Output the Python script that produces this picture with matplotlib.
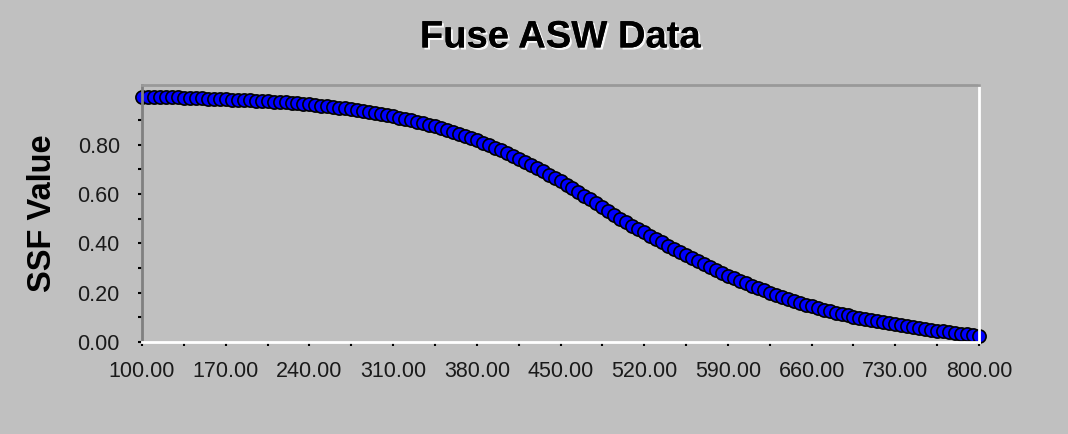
import matplotlib
matplotlib.use("Agg")
import matplotlib.pyplot as plt
import matplotlib.patheffects as pe
import numpy as np

# SSF curve, sampled every 5 units from 100 to 800
x_start = 100
x_step = 5
ssf_values = [
    0.995, 0.995, 0.994, 0.994, 0.993, 0.993, 0.992, 0.991, 0.990, 0.989,
    0.988, 0.987, 0.986, 0.985, 0.984, 0.983, 0.982, 0.981, 0.980, 0.978,
    0.977, 0.976, 0.974, 0.972, 0.971, 0.969, 0.967, 0.965, 0.963, 0.960,
    0.958, 0.955, 0.953, 0.950, 0.947, 0.943, 0.940, 0.936, 0.933, 0.928,
    0.924, 0.920, 0.915, 0.910, 0.905, 0.899, 0.893, 0.887, 0.881, 0.874,
    0.867, 0.860, 0.852, 0.844, 0.836, 0.827, 0.818, 0.808, 0.798, 0.788,
    0.777, 0.766, 0.755, 0.743, 0.731, 0.719, 0.706, 0.693, 0.679, 0.665,
    0.651, 0.637, 0.623, 0.608, 0.593, 0.578, 0.562, 0.547, 0.531, 0.516,
    0.500,
    0.486, 0.472, 0.458, 0.445, 0.431, 0.417, 0.404, 0.391, 0.378, 0.365,
    0.352, 0.339, 0.327, 0.315, 0.303, 0.291, 0.280, 0.269, 0.258, 0.248,
    0.238, 0.228, 0.218, 0.209, 0.200, 0.191, 0.182, 0.174, 0.166, 0.159,
    0.152, 0.145, 0.138, 0.131, 0.125, 0.119, 0.114, 0.108, 0.103, 0.098,
    0.093, 0.088, 0.084, 0.080, 0.076, 0.072, 0.068, 0.065, 0.062, 0.058,
    0.054, 0.050, 0.046, 0.043, 0.040, 0.037, 0.034, 0.031, 0.028, 0.025,
]
x_values = x_start + x_step * np.arange(len(ssf_values))

x_major = [100, 170, 240, 310, 380, 450, 520, 590, 660, 730, 800]
x_minor = [135, 205, 275, 345, 415, 485, 555, 625, 695, 765]
y_major = [0.0, 0.2, 0.4, 0.6, 0.8]
y_minor = [0.1, 0.3, 0.5, 0.7, 0.9]

bg = "#c0c0c0"

fig = plt.figure(figsize=(10.68, 4.34), dpi=100)
fig.patch.set_facecolor(bg)
ax = fig.add_axes([0.1330, 0.2120, 0.7837, 0.5922])
ax.set_facecolor(bg)

ax.plot(x_values, ssf_values, linestyle="none", marker="o", markersize=9.5,
        markerfacecolor="#0000ff", markeredgecolor="black", markeredgewidth=1.2,
        clip_on=False)

ax.set_xlim(100, 800)
ax.set_ylim(0, 1.042)

ax.set_xticks(x_major)
ax.set_xticks(x_minor, minor=True)
ax.set_xticklabels([f"{v:.2f}" for v in x_major])
ax.set_yticks(y_major)
ax.set_yticks(y_minor, minor=True)
ax.set_yticklabels([f"{v:.2f}" for v in y_major])

for lbl in ax.get_xticklabels() + ax.get_yticklabels():
    lbl.set_fontfamily("Liberation Sans")
    lbl.set_fontsize(15.5)
    lbl.set_color("#1a1a1a")

ax.tick_params(axis="both", which="both", direction="out", length=3, width=1.5,
               color="black")
ax.tick_params(axis="x", which="both", pad=11)
ax.tick_params(axis="y", which="both", pad=13)

# 3D style frame: dark top/left, white bottom/right
ax.spines["left"].set_color("#808080")
ax.spines["top"].set_color("#999999")
ax.spines["right"].set_color("white")
ax.spines["bottom"].set_color("white")
for s in ax.spines.values():
    s.set_linewidth(2)

ax.set_ylabel("SSF Value", fontfamily="Liberation Sans", fontsize=23.5,
              fontweight="bold", labelpad=14)

ax.set_title("Fuse ASW Data", fontfamily="Liberation Sans", fontsize=27.5,
             fontweight="bold", pad=27,
             path_effects=[pe.withSimplePatchShadow(offset=(1.5, -1.5),
                                                    shadow_rgbFace="white",
                                                    alpha=0.9),
                           pe.Normal()])

fig.savefig("out.png", dpi=100, facecolor=bg)
